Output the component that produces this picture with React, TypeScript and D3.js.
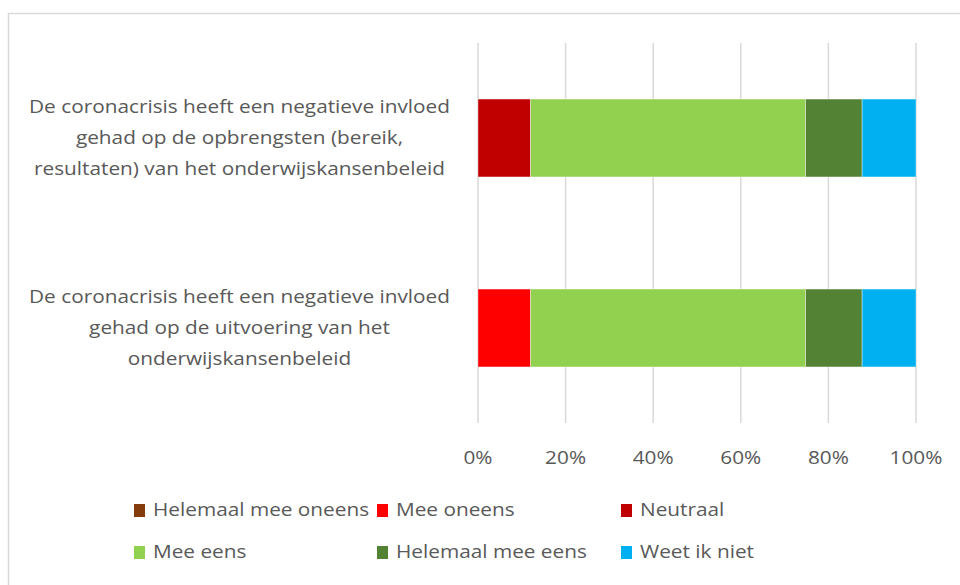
import React from "react";
import * as d3 from "d3";

const categories = [
  "De coronacrisis heeft een negatieve invloed gehad op de opbrengsten (bereik, resultaten) van het onderwijskansenbeleid",
  "De coronacrisis heeft een negatieve invloed gehad op de uitvoering van het onderwijskansenbeleid",
];
const categoryLines = [
  ["De coronacrisis heeft een negatieve invloed", "gehad op de opbrengsten (bereik,", "resultaten) van het onderwijskansenbeleid"],
  ["De coronacrisis heeft een negatieve invloed", "gehad op de uitvoering van het", "onderwijskansenbeleid"],
];
const seriesNames = ["Helemaal mee oneens", "Mee oneens", "Neutraal", "Mee eens", "Helemaal mee eens", "Weet ik niet"];
const helemaalMeeOneens = [0, 0];
const meeOneens = [0, 12];
const neutraal = [12, 0];
const meeEens = [62.8, 62.8];
const helemaalMeeEens = [12.9, 12.9];
const weetIkNiet = [12.3, 12.3];
const tickValues = [0, 20, 40, 60, 80, 100];
const colors = ["#843C0C", "#FF0000", "#C00000", "#92D050", "#548235", "#00B0F0"];

const W = 960;
const H = 585;
const FONT = "'Open Sans', sans-serif";
const TEXT = "#595959";
const SX = 1.155;
const FS = 18;

function SText({ x, y, anchor = "start", children }: { x: number; y: number; anchor?: string; children: React.ReactNode }) {
  return (
    <text
      transform={`translate(${x},${y}) scale(${SX},1)`}
      textAnchor={anchor}
      dominantBaseline="central"
      fontSize={FS}
      fill={TEXT}
    >
      {children}
    </text>
  );
}

export default function App() {
  const seriesValues = [helemaalMeeOneens, meeOneens, neutraal, meeEens, helemaalMeeEens, weetIkNiet];
  const rows = categories.map((c, i) => {
    const o: Record<string, any> = { cat: c };
    seriesNames.forEach((s, j) => (o[s] = seriesValues[j][i]));
    return o;
  });
  const stack = d3.stack<any>().keys(seriesNames)(rows);
  const x = d3.scaleLinear().domain([0, 100]).range([478, 916]);
  const y = d3.scaleBand<string>().domain(categories).range([43, 423]).paddingInner(0.59).paddingOuter(0.295);

  const legendCols = [134, 377, 621];
  const legendRows = [510.5, 552.5];

  return (
    <svg width={W} height={H} style={{ position: "absolute", left: 0, top: 0, background: "#fff" }} fontFamily={FONT}>
      <rect x={8.5} y={13.5} width={W} height={H} fill="#fff" stroke="#d9d9d9" strokeWidth={1.5} />
      {tickValues.map((t) => (
        <g key={t}>
          <line x1={x(t)} x2={x(t)} y1={43} y2={423} stroke="#d9d9d9" strokeWidth={1.5} />
          <SText x={x(t)} y={457} anchor="middle">
            {t}%
          </SText>
        </g>
      ))}
      {stack.map((s, j) =>
        s.map((d, i) =>
          d[1] - d[0] > 0 ? (
            <rect
              key={`${j}-${i}`}
              x={x(d[0])}
              width={x(d[1]) - x(d[0])}
              y={y(categories[i])!}
              height={y.bandwidth()}
              fill={colors[j]}
              stroke="#ffffff"
              strokeOpacity={0.5}
              strokeWidth={0.75}
            />
          ) : null
        )
      )}
      {categories.map((c, i) => {
        const cy = y(c)! + y.bandwidth() / 2;
        const lines = categoryLines[i];
        const lh = 31;
        return (
          <g key={c}>
            {lines.map((l, k) => (
              <SText key={k} x={239.5} y={cy + (k - (lines.length - 1) / 2) * lh - 1} anchor="middle">
                {l}
              </SText>
            ))}
          </g>
        );
      })}
      {seriesNames.map((s, j) => {
        const lx = legendCols[j % 3];
        const ly = legendRows[Math.floor(j / 3)];
        return (
          <g key={s}>
            <rect x={lx} y={ly - 6.5} width={11} height={13} fill={colors[j]} />
            <SText x={lx + 19} y={ly - 1}>
              {s}
            </SText>
          </g>
        );
      })}
    </svg>
  );
}
